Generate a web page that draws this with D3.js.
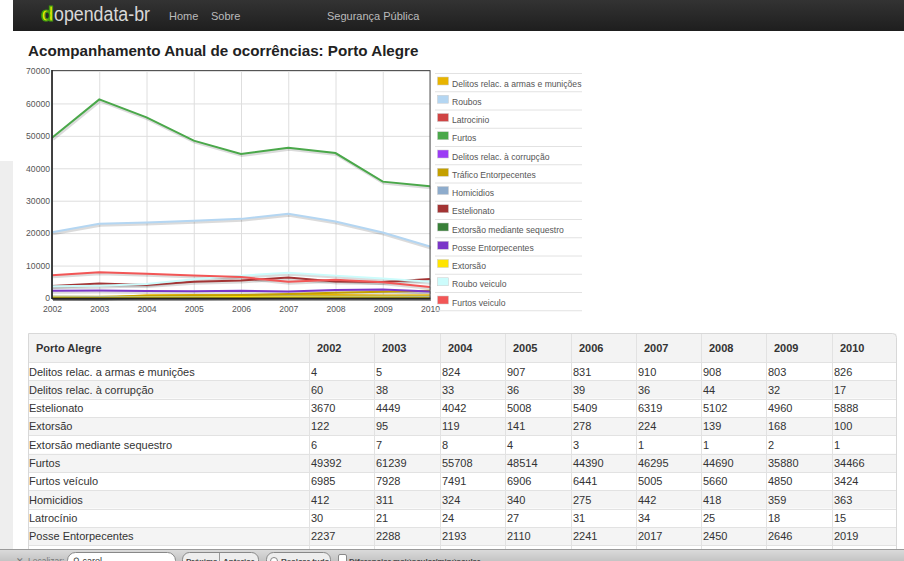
<!DOCTYPE html>
<html>
<head>
<meta charset="utf-8">
<script src="https://cdn.jsdelivr.net/npm/d3@7"></script>
<style>
  body { margin: 0; background: #fff; }
  svg { display: block; font-family: "Liberation Sans", Arial, sans-serif; }
</style>
</head>
<body>
<svg width="904" height="561"></svg>
<script>
// anos
var years = [2002, 2003, 2004, 2005, 2006, 2007, 2008, 2009, 2010];
var yTicks = [0, 10000, 20000, 30000, 40000, 50000, 60000, 70000];

// series (valores da tabela; Roubos, Roubo veículo e Tráfico)
var armas         = [4, 5, 824, 907, 831, 910, 908, 803, 826];
var roubos        = [20300, 22900, 23300, 23800, 24400, 26000, 23600, 20200, 15900];
var latrocinio    = [30, 21, 24, 27, 31, 34, 25, 18, 15];
var furtos        = [49392, 61239, 55708, 48514, 44390, 46295, 44690, 35880, 34466];
var corrupcao     = [60, 38, 33, 36, 39, 36, 44, 32, 17];
var trafico       = [350, 400, 600, 800, 900, 1200, 1600, 1900, 2200];
var homicidios    = [412, 311, 324, 340, 275, 442, 418, 359, 363];
var estelionato   = [3670, 4449, 4042, 5008, 5409, 6319, 5102, 4960, 5888];
var extSequestro  = [6, 7, 8, 4, 3, 1, 1, 2, 1];
var posse         = [2237, 2288, 2193, 2110, 2241, 2017, 2450, 2646, 2019];
var extorsao      = [122, 95, 119, 141, 278, 224, 139, 168, 100];
var rouboVeiculo  = [3600, 3800, 4300, 5800, 6900, 7800, 6900, 6000, 5000];
var furtosVeiculo = [6985, 7928, 7491, 6906, 6441, 5005, 5660, 4850, 3424];

var legendNames = ["Delitos relac. a armas e munições", "Roubos", "Latrocinio", "Furtos",
  "Delitos relac. à corrupção", "Tráfico Entorpecentes", "Homicidios", "Estelionato",
  "Extorsão mediante sequestro", "Posse Entorpecentes", "Extorsão", "Roubo veiculo", "Furtos veiculo"];
var legendColors = ["#e8b400", "#b4d6f2", "#d04444", "#4aa84a", "#9b3cf5", "#c4a000",
  "#8eaccc", "#a33434", "#387f38", "#7a36c8", "#ffe400", "#ccfcfc", "#f25656"];
var legendValues = [armas, roubos, latrocinio, furtos, corrupcao, trafico, homicidios,
  estelionato, extSequestro, posse, extorsao, rouboVeiculo, furtosVeiculo];

// linhas da tabela (ordem alfabética); só as 10 primeiras aparecem acima da barra de busca
var tableNames = ["Delitos relac. a armas e munições", "Delitos relac. à corrupção", "Estelionato",
  "Extorsão", "Extorsão mediante sequestro", "Furtos", "Furtos veículo", "Homicidios",
  "Latrocínio", "Posse Entorpecentes", "Roubo veículo", "Roubos", "Tráfico Entorpecentes"];
var tableValues = [armas, corrupcao, estelionato, extorsao, extSequestro, furtos, furtosVeiculo,
  homicidios, latrocinio, posse, rouboVeiculo, roubos, trafico];
var visibleRows = 10;

var svg = d3.select("svg");

svg.append("rect").attr("width", 904).attr("height", 561).attr("fill", "#fff");

// faixa cinza à esquerda
svg.append("rect").attr("x", 0).attr("y", 161).attr("width", 13).attr("height", 400).attr("fill", "#eeeeee");

// navbar
var defs = svg.append("defs");
var navGrad = defs.append("linearGradient").attr("id", "nav-grad").attr("x1", 0).attr("y1", 0).attr("x2", 0).attr("y2", 1);
navGrad.append("stop").attr("offset", 0).attr("stop-color", "#333");
navGrad.append("stop").attr("offset", 1).attr("stop-color", "#1e1e1e");

svg.append("rect").attr("x", 13).attr("y", 0).attr("width", 891).attr("height", 31).attr("fill", "url(#nav-grad)");

svg.append("text").attr("x", 41).attr("y", 21)
  .style("font-size", "21px").style("font-weight", "bold")
  .attr("fill", "#e4ec00").attr("stroke", "#3f9a10").attr("stroke-width", 1.2)
  .text("d");
svg.append("text").attr("x", 54).attr("y", 21)
  .attr("textLength", 96).attr("lengthAdjust", "spacingAndGlyphs")
  .style("font-size", "20px").attr("fill", "#d8d8d8").text("opendata-br");
svg.append("text").attr("x", 169).attr("y", 20).style("font-size", "11px").attr("fill", "#bbb").text("Home");
svg.append("text").attr("x", 211).attr("y", 20).style("font-size", "11px").attr("fill", "#bbb").text("Sobre");
svg.append("text").attr("x", 327).attr("y", 20).style("font-size", "11px").attr("fill", "#bbb").text("Segurança Pública");

// título
svg.append("text").attr("x", 28).attr("y", 56)
  .style("font-size", "15.2px").style("font-weight", "bold").attr("fill", "#222")
  .text("Acompanhamento Anual de ocorrências: Porto Alegre");

// gráfico
var x = d3.scaleLinear().domain([2002, 2010]).range([52, 430]);
var y = d3.scaleLinear().domain([0, 70000]).range([298, 71]);

var chart = svg.append("g");

chart.append("g")
  .attr("transform", "translate(52,0)")
  .call(d3.axisLeft(y).tickValues(yTicks).tickSize(-378).tickPadding(2).tickFormat(d3.format("d")))
  .call(function(g) {
    g.select(".domain").remove();
    g.selectAll("line").attr("stroke", "#dedede");
    g.selectAll("text").attr("fill", "#555").style("font-size", "8.6px").attr("font-family", "Liberation Sans, Arial");
  });

chart.append("g")
  .attr("transform", "translate(0,298)")
  .call(d3.axisBottom(x).tickValues(years).tickSize(-227).tickPadding(8).tickFormat(d3.format("d")))
  .call(function(g) {
    g.select(".domain").remove();
    g.selectAll("line").attr("stroke", "#dedede");
    g.selectAll("text").attr("fill", "#555").style("font-size", "8.6px").attr("font-family", "Liberation Sans, Arial");
  });

var line = d3.line()
  .x(function(d, i) { return x(years[i]); })
  .y(function(d) { return y(d); });

// sombras
chart.selectAll("path.shadow")
  .data(legendValues)
  .enter().append("path")
  .attr("class", "shadow")
  .attr("d", line)
  .attr("transform", "translate(1,1.5)")
  .attr("fill", "none")
  .attr("stroke", "rgba(0,0,0,0.14)")
  .attr("stroke-width", 3);

chart.selectAll("path.serie")
  .data(legendValues)
  .enter().append("path")
  .attr("class", "serie")
  .attr("d", line)
  .attr("fill", "none")
  .attr("stroke", function(d, i) { return legendColors[i]; })
  .attr("stroke-width", 2);

// borda da área
chart.append("rect").attr("x", 52).attr("y", 70.5).attr("width", 378).attr("height", 228)
  .attr("fill", "none").attr("stroke", "#555").attr("stroke-width", 1);
chart.append("line").attr("x1", 52).attr("x2", 430).attr("y1", 298.5).attr("y2", 298.5)
  .attr("stroke", "#222").attr("stroke-width", 2);
chart.append("line").attr("x1", 52).attr("x2", 52).attr("y1", 70).attr("y2", 299)
  .attr("stroke", "#222").attr("stroke-width", 1.5);

// legenda
var legend = svg.append("g");
var rowH = 18.25;
legend.selectAll("line.sep")
  .data(d3.range(legendNames.length + 1))
  .enter().append("line")
  .attr("class", "sep")
  .attr("x1", 435).attr("x2", 582)
  .attr("y1", function(d) { return 73.5 + d * rowH; })
  .attr("y2", function(d) { return 73.5 + d * rowH; })
  .attr("stroke", "#e2e2e2");

var items = legend.selectAll("g.item")
  .data(legendNames)
  .enter().append("g")
  .attr("class", "item")
  .attr("transform", function(d, i) { return "translate(0," + (73.5 + i * rowH) + ")"; });

items.append("rect")
  .attr("x", 437.5).attr("y", 3.5).attr("width", 11).attr("height", 8)
  .attr("fill", function(d, i) { return legendColors[i]; })
  .attr("stroke", "#ccc").attr("stroke-width", 0.5);

items.append("text")
  .attr("x", 452).attr("y", 13)
  .style("font-size", "8.6px").attr("fill", "#555")
  .text(function(d) { return d; });

// tabela
var colX = [28, 309, 374, 440, 505, 571, 636, 701, 766, 832, 897];
var tableTop = 333, headH = 29, dataH = 18.33;
var table = svg.append("g");

table.append("rect").attr("x", 28.5).attr("y", tableTop + 0.5).attr("width", 868).attr("height", headH)
  .attr("fill", "#f3f3f3");

table.selectAll("rect.row")
  .data(tableNames)
  .enter().append("rect")
  .attr("class", "row")
  .attr("x", 28.5)
  .attr("y", function(d, i) { return tableTop + headH + i * dataH; })
  .attr("width", 868).attr("height", dataH)
  .attr("fill", function(d, i) { return i % 2 ? "#f4f4f4" : "#fff"; });

table.selectAll("line.hr")
  .data(d3.range(tableNames.length + 1))
  .enter().append("line")
  .attr("class", "hr")
  .attr("x1", 28).attr("x2", 897)
  .attr("y1", function(d) { return Math.round(tableTop + headH + d * dataH) + 0.5; })
  .attr("y2", function(d) { return Math.round(tableTop + headH + d * dataH) + 0.5; })
  .attr("stroke", "#e2e2e2");

table.selectAll("line.vr")
  .data(colX.slice(1, colX.length - 1))
  .enter().append("line")
  .attr("class", "vr")
  .attr("x1", function(d) { return d + 0.5; }).attr("x2", function(d) { return d + 0.5; })
  .attr("y1", tableTop).attr("y2", 561)
  .attr("stroke", "#e2e2e2");

table.append("path")
  .attr("d", "M28.5,561 V" + (tableTop + 0.5) + " H892.5 Q896.5," + (tableTop + 0.5) + " 896.5," + (tableTop + 4.5) + " V561")
  .attr("fill", "none").attr("stroke", "#d8d8d8");

table.append("text").attr("x", 36).attr("y", tableTop + 19)
  .style("font-size", "11px").style("font-weight", "bold").attr("fill", "#333").text("Porto Alegre");

table.selectAll("text.year")
  .data(years)
  .enter().append("text")
  .attr("class", "year")
  .attr("x", function(d, i) { return colX[i + 1] + 8; })
  .attr("y", tableTop + 19)
  .style("font-size", "11px").style("font-weight", "bold").attr("fill", "#333")
  .text(function(d) { return d; });

var rows = table.selectAll("g.trow")
  .data(tableNames.slice(0, visibleRows))
  .enter().append("g")
  .attr("class", "trow")
  .attr("transform", function(d, i) { return "translate(0," + (tableTop + headH + i * dataH + 13.5) + ")"; });

rows.append("text").attr("x", 29)
  .style("font-size", "11px").attr("fill", "#333")
  .text(function(d) { return d; });

rows.selectAll("text.val")
  .data(function(d, i) { return tableValues[i]; })
  .enter().append("text")
  .attr("class", "val")
  .attr("x", function(d, j) { return colX[j + 1] + 2; })
  .style("font-size", "11px").attr("fill", "#333")
  .text(function(d) { return d; });

// barra de busca do navegador
var findGrad = defs.append("linearGradient").attr("id", "find-grad").attr("x1", 0).attr("y1", 0).attr("x2", 0).attr("y2", 1);
findGrad.append("stop").attr("offset", 0).attr("stop-color", "#dcdcdc");
findGrad.append("stop").attr("offset", 1).attr("stop-color", "#c4c4c4");

var find = svg.append("g");
find.append("rect").attr("x", 0).attr("y", 549).attr("width", 904).attr("height", 12).attr("fill", "url(#find-grad)");
find.append("line").attr("x1", 0).attr("x2", 904).attr("y1", 549.5).attr("y2", 549.5).attr("stroke", "#9a9a9a");
find.append("text").attr("x", 16).attr("y", 564).style("font-size", "9px").attr("fill", "#777").text("✕");
find.append("text").attr("x", 28).attr("y", 564).style("font-size", "8.5px").attr("fill", "#777").text("Localizar:");
find.append("rect").attr("x", 67.5).attr("y", 552.5).attr("width", 108).attr("height", 16).attr("rx", 8)
  .attr("fill", "#fff").attr("stroke", "#888");
find.append("text").attr("x", 73).attr("y", 564).style("font-size", "9px").attr("fill", "#333").text("⚲ carol");
find.append("rect").attr("x", 182.5).attr("y", 552.5).attr("width", 76).attr("height", 16).attr("rx", 7)
  .attr("fill", "#eee").attr("stroke", "#888");
find.append("line").attr("x1", 219.5).attr("x2", 219.5).attr("y1", 553).attr("y2", 561).attr("stroke", "#999");
find.append("text").attr("x", 186).attr("y", 564).style("font-size", "8px").style("font-weight", "bold").attr("fill", "#444").text("Próxima");
find.append("text").attr("x", 223).attr("y", 564).style("font-size", "8px").style("font-weight", "bold").attr("fill", "#444").text("Anterior");
find.append("rect").attr("x", 266.5).attr("y", 552.5).attr("width", 64).attr("height", 16).attr("rx", 7)
  .attr("fill", "#eee").attr("stroke", "#888");
find.append("circle").attr("cx", 274).attr("cy", 561).attr("r", 3.5).attr("fill", "#fff").attr("stroke", "#888");
find.append("text").attr("x", 281).attr("y", 564).style("font-size", "8px").style("font-weight", "bold").attr("fill", "#444").text("Realçar tudo");
find.append("rect").attr("x", 338.5).attr("y", 554.5).attr("width", 8).attr("height", 8).attr("rx", 1.5)
  .attr("fill", "#fff").attr("stroke", "#888");
find.append("text").attr("x", 349).attr("y", 564).style("font-size", "8px").style("font-weight", "bold").attr("fill", "#444").text("Diferenciar maiúscular/minúscular");
</script>
</body>
</html>
